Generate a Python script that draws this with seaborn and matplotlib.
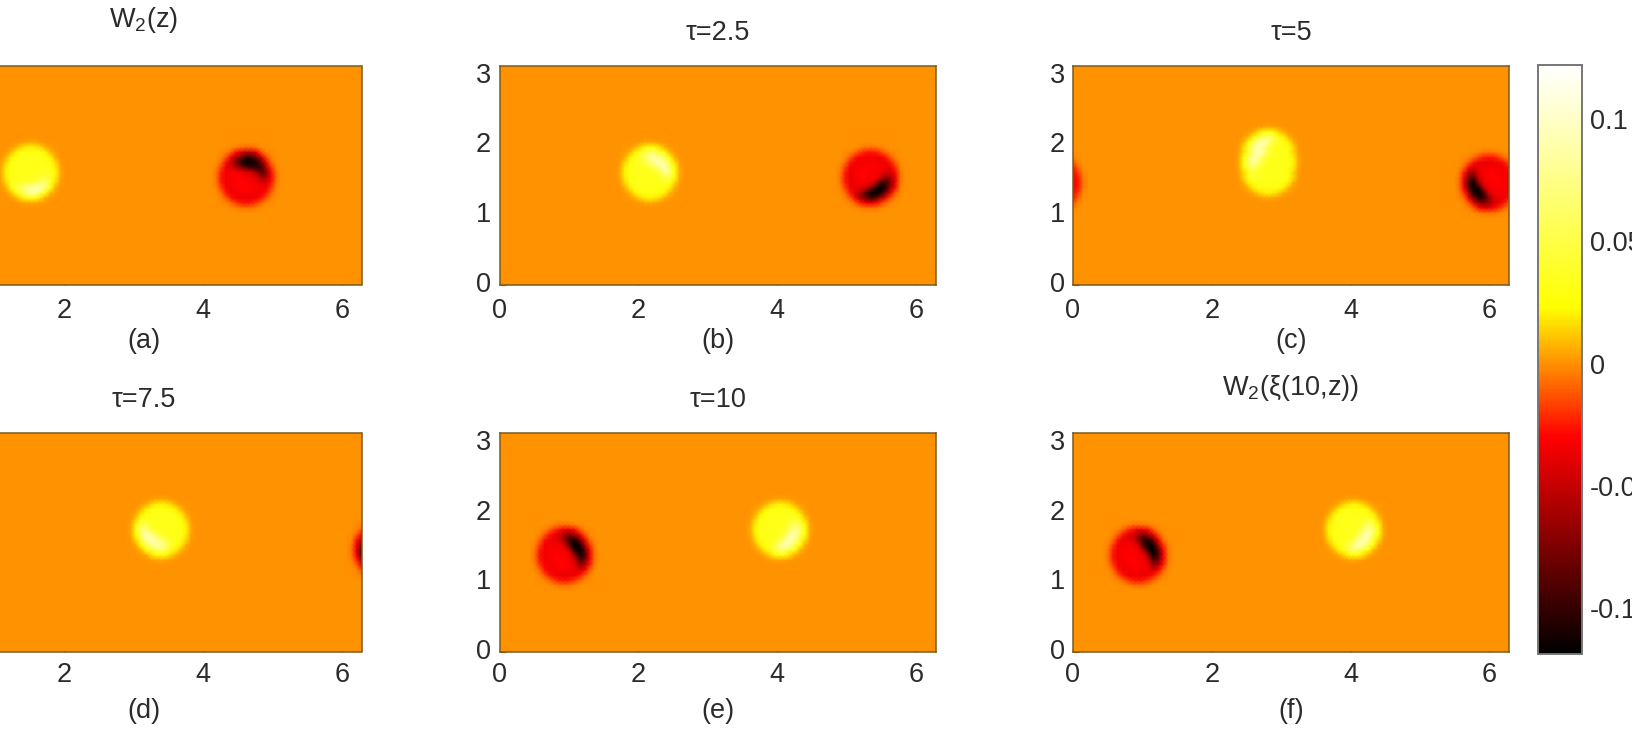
import numpy as np
import matplotlib
matplotlib.use("Agg")
import matplotlib.pyplot as plt
from matplotlib.colors import LinearSegmentedColormap
import seaborn as sns

# ---- values (patch values in units of 0.001) ----
POS_DIAG = [
 [0,0,0,1,2,4,5,4,2,1,0,0,0],
 [0,1,2,6,14,19,21,19,14,6,2,1,0],
 [0,2,8,20,28,30,30,30,28,20,8,2,0],
 [1,6,20,29,32,32,32,32,33,31,20,6,1],
 [2,14,28,32,32,32,32,33,36,42,32,14,2],
 [4,19,30,32,32,32,32,36,48,62,48,22,4],
 [5,21,30,32,32,32,33,42,65,82,62,26,5],
 [4,19,30,32,32,32,37,56,82,88,55,24,4],
 [2,14,28,32,32,36,50,76,94,76,40,16,2],
 [1,6,20,29,36,48,76,94,80,50,26,6,1],
 [0,2,8,20,32,50,66,60,42,26,8,2,0],
 [0,1,2,6,14,22,28,24,16,6,2,1,0],
 [0,0,0,1,2,4,5,4,2,1,0,0,0],
]
POS_BOTTOM = [
 [0,0,0,1,2,4,5,4,2,1,0,0,0],
 [0,1,2,6,14,19,21,19,14,6,2,1,0],
 [0,2,8,20,28,30,30,30,28,20,8,2,0],
 [1,6,20,29,32,32,32,32,32,29,20,6,1],
 [2,14,28,32,32,32,32,32,32,32,28,14,2],
 [4,19,30,32,32,32,32,32,32,33,30,19,4],
 [5,21,30,32,32,32,32,32,33,38,33,21,5],
 [4,19,30,32,33,33,33,36,42,50,36,19,4],
 [2,14,30,36,42,44,46,54,66,66,38,14,2],
 [1,6,24,42,58,74,86,92,88,60,26,6,1],
 [0,2,10,26,46,68,84,80,56,30,8,2,0],
 [0,1,2,7,18,26,32,26,17,6,2,1,0],
 [0,0,0,1,2,4,5,4,2,1,0,0,0],
]
NEG_DIAG = [
 [0,0,0,-1,-3,-5,-6,-5,-3,-1,0,0,0],
 [0,-1,-3,-10,-20,-28,-36,-36,-28,-12,-3,-1,0],
 [0,-3,-12,-26,-36,-44,-62,-72,-64,-40,-14,-3,0],
 [-1,-8,-26,-36,-36,-42,-68,-98,-105,-78,-36,-8,-1],
 [-3,-18,-34,-34,-32,-34,-46,-92,-118,-112,-62,-20,-3],
 [-5,-24,-34,-32,-32,-32,-34,-52,-105,-118,-88,-30,-5],
 [-6,-26,-34,-32,-30,-30,-32,-36,-66,-112,-95,-36,-6],
 [-5,-24,-34,-32,-30,-30,-30,-34,-46,-88,-78,-32,-5],
 [-3,-18,-32,-34,-32,-30,-30,-32,-38,-60,-56,-24,-3],
 [-1,-8,-26,-34,-34,-32,-32,-34,-36,-42,-32,-10,-1],
 [0,-3,-12,-26,-34,-36,-36,-36,-34,-26,-12,-3,0],
 [0,-1,-3,-8,-18,-24,-26,-24,-18,-8,-3,-1,0],
 [0,0,0,-1,-3,-5,-6,-5,-3,-1,0,0,0],
]
NEG_TOP = [
 [0,0,0,-1,-3,-6,-8,-8,-4,-1,0,0,0],
 [0,-1,-3,-12,-28,-40,-50,-50,-36,-14,-3,-1,0],
 [0,-3,-14,-36,-58,-80,-100,-100,-80,-50,-16,-3,0],
 [-1,-8,-28,-50,-78,-105,-118,-118,-110,-80,-36,-8,-1],
 [-3,-18,-36,-40,-52,-68,-85,-95,-100,-95,-60,-20,-3],
 [-5,-24,-34,-32,-34,-36,-40,-46,-62,-85,-72,-28,-5],
 [-6,-26,-34,-32,-30,-30,-32,-34,-40,-58,-56,-30,-6],
 [-5,-24,-34,-32,-30,-30,-30,-32,-34,-42,-40,-26,-5],
 [-3,-18,-32,-34,-30,-30,-30,-30,-32,-34,-34,-18,-3],
 [-1,-8,-26,-34,-32,-32,-32,-32,-34,-34,-26,-8,-1],
 [0,-3,-12,-26,-34,-36,-36,-36,-34,-26,-12,-3,0],
 [0,-1,-3,-8,-18,-24,-26,-24,-18,-8,-3,-1,0],
 [0,0,0,-1,-3,-5,-6,-5,-3,-1,0,0,0],
]

TITLES = ["W$_2$(z)", "τ=2.5", "τ=5", "τ=7.5", "τ=10", "W$_2$(ξ(10,z))"]
CAPTIONS = ["(a)", "(b)", "(c)", "(d)", "(e)", "(f)"]
X_TICKS = [0, 2, 4, 6]
Y_TICKS = [0, 1, 2, 3]
CB_TICKS = [-0.1, -0.05, 0, 0.05, 0.1]
CB_LABELS = ["-0.1", "-0.05", "0", "0.05", "0.1"]
VMIN, VMAX = -0.1188, 0.1222

# blob centres (x, y) in axis units per panel
POS_X = [1.52, 2.17, 2.85, 3.41, 4.07, 4.06]
POS_Y = [1.63, 1.61, 1.73, 1.78, 1.72, 1.72]
NEG_X = [4.64, 5.32, 6.00, 6.55, 0.92, 0.92]
NEG_Y = [1.57, 1.53, 1.44, 1.44, 1.41, 1.40]

# ---- layout, pixels ----
W, H = 1632, 730
LEFTS = [-74.5, 499.5, 1073, -74.5, 499.5, 1073]
TOPS = [66, 66, 66, 433.3, 433.3, 433.3]
AW, AH = 436, 218.5
TITLE_PADS = [28, 18.5, 18.5, 19, 19, 27.5]
TICK_PADS = [9.5, 9.5, 9.5, 7.5, 7.5, 7.5]
LABEL_PADS = [3, 3, 3, 7, 7, 7]
NX, NY = 88, 44
DX, DY = 2 * np.pi / (NX - 1), np.pi / (NY - 1)
TEXT = "#2b2b2b"
FS = 19.5

sns.set_theme(style="ticks")
plt.rcParams["font.family"] = ["Liberation Sans", "DejaVu Sans"]
plt.rcParams["mathtext.default"] = "regular"
plt.rcParams["mathtext.fontset"] = "custom"
plt.rcParams["mathtext.rm"] = "Liberation Sans"

cmap = LinearSegmentedColormap.from_list(
    "hot_like",
    [(0.0, (0, 0, 0)), (0.368, (1, 0, 0)), (0.589, (1, 1, 0)), (1.0, (1, 1, 1))],
    N=256,
)


def stamp(field, patch, x, y):
    patch = np.asarray(patch, dtype=float) / 1000.0
    rows, cols = patch.shape
    ci, cj = int(round(x / DX)), (NY - 1) - int(round(y / DY))
    for r in range(rows):
        for c in range(cols):
            j = cj + r - rows // 2
            i = (ci + c - cols // 2) % (NX - 1)
            if 0 <= j < NY:
                field[j, i] += patch[r, c]
                if i == 0:
                    field[j, NX - 1] += patch[r, c]


# orientation of the typed patches in each panel
c_stretch = [1, 1, 1, 1, 2, 1, 1, 1, 2, 1, 1, 1, 1]
POS_PATCHES = [
    np.array(POS_BOTTOM),
    np.rot90(POS_DIAG, 1),
    np.repeat(np.rot90(POS_DIAG, 2), c_stretch, axis=0),
    np.rot90(POS_DIAG, 3),
    np.array(POS_DIAG),
    np.array(POS_DIAG),
]
NEG_PATCHES = [
    np.array(NEG_TOP),
    np.rot90(NEG_DIAG, 3),
    np.rot90(NEG_DIAG, 2),
    np.rot90(NEG_DIAG, 2),
    np.array(NEG_DIAG),
    np.array(NEG_DIAG),
]

fig = plt.figure(figsize=(W / 100, H / 100), dpi=100, facecolor="white")
cax = fig.add_axes([1538 / W, 1 - 654 / H, 44 / W, 589 / H])

for k in range(6):
    field = np.zeros((NY, NX))
    stamp(field, POS_PATCHES[k], POS_X[k], POS_Y[k])
    stamp(field, NEG_PATCHES[k], NEG_X[k], NEG_Y[k])
    ax = fig.add_axes([LEFTS[k] / W, 1 - (TOPS[k] + AH) / H, AW / W, AH / H])
    last = k == 5
    sns.heatmap(
        field, ax=ax, cmap=cmap, vmin=VMIN, vmax=VMAX, shading="gouraud",
        xticklabels=False, yticklabels=False,
        cbar=last, cbar_ax=cax if last else None,
        cbar_kws={"ticks": CB_TICKS} if last else None,
    )
    ax.set_xlim(0, NX - 1)
    ax.set_ylim(NY - 1, 0)
    ax.set_xticks([v / DX for v in X_TICKS])
    ax.set_xticklabels([str(v) for v in X_TICKS], rotation=0)
    ax.set_yticks([(NY - 1) - v / DY for v in Y_TICKS])
    ax.set_yticklabels([str(v) for v in Y_TICKS], rotation=0, va="center")
    ax.tick_params(axis="x", direction="in", length=4, width=0.8, color="#7a5a20",
                   labelsize=FS, labelcolor=TEXT, pad=TICK_PADS[k], bottom=True)
    ax.tick_params(axis="y", direction="in", length=4, width=0.8, color="#7a5a20",
                   labelsize=FS, labelcolor=TEXT, pad=6, left=True)
    for s in ax.spines.values():
        s.set_visible(True)
        s.set_color("#7a5a20")
        s.set_linewidth(1.1)
    ax.set_title(TITLES[k], fontsize=FS, color=TEXT, pad=TITLE_PADS[k])
    ax.set_xlabel(CAPTIONS[k], fontsize=FS, color=TEXT, labelpad=LABEL_PADS[k])

cax.yaxis.set_ticks(CB_TICKS)
cax.set_yticklabels(CB_LABELS)
cax.tick_params(axis="y", direction="in", length=5, width=1, color="#6a6a40",
                left=True, right=True, labelright=True, labelleft=False,
                labelsize=FS, labelcolor=TEXT, pad=5.5)
for s in cax.spines.values():
    s.set_visible(True)
    s.set_color("#777777")
    s.set_linewidth(1.2)

fig.savefig("out.png", dpi=100, facecolor="white")
